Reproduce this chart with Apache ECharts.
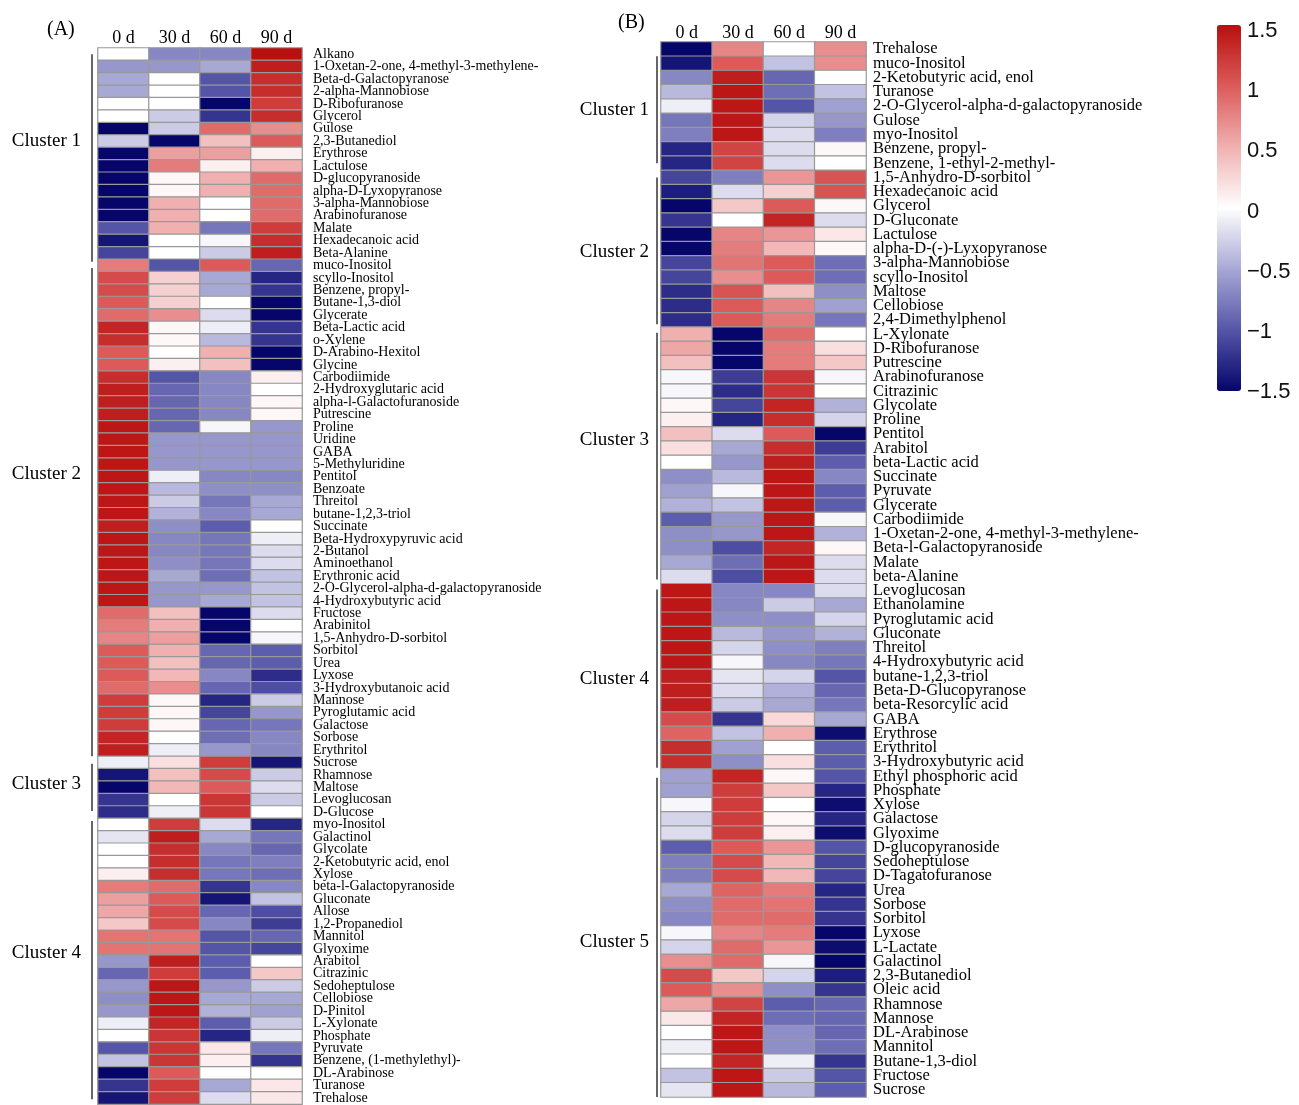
<!DOCTYPE html>
<html>
<head>
<meta charset="utf-8">
<script src="https://cdn.jsdelivr.net/npm/echarts@6/dist/echarts.min.js"></script>
<style>
  html, body { margin: 0; padding: 0; background: #fff; }
  #chart { width: 1299px; height: 1105px; }
</style>
</head>
<body>
<div id="chart"></div>
<script>
const days = ['0 d', '30 d', '60 d', '90 d'];

const namesA = [
  'Alkano', '1-Oxetan-2-one, 4-methyl-3-methylene-', 'Beta-d-Galactopyranose', '2-alpha-Mannobiose',
  'D-Ribofuranose', 'Glycerol', 'Gulose', '2,3-Butanediol', 'Erythrose', 'Lactulose', 'D-glucopyranoside',
  'alpha-D-Lyxopyranose', '3-alpha-Mannobiose', 'Arabinofuranose', 'Malate', 'Hexadecanoic acid',
  'Beta-Alanine', 'muco-Inositol',
  'scyllo-Inositol', 'Benzene, propyl-', 'Butane-1,3-diol', 'Glycerate', 'Beta-Lactic acid', 'o-Xylene',
  'D-Arabino-Hexitol', 'Glycine', 'Carbodiimide', '2-Hydroxyglutaric acid', 'alpha-l-Galactofuranoside',
  'Putrescine', 'Proline', 'Uridine', 'GABA', '5-Methyluridine', 'Pentitol', 'Benzoate', 'Threitol',
  'butane-1,2,3-triol', 'Succinate', 'Beta-Hydroxypyruvic acid', '2-Butanol', 'Aminoethanol',
  'Erythronic acid', '2-O-Glycerol-alpha-d-galactopyranoside', '4-Hydroxybutyric acid', 'Fructose',
  'Arabinitol', '1,5-Anhydro-D-sorbitol', 'Sorbitol', 'Urea', 'Lyxose', '3-Hydroxybutanoic acid',
  'Mannose', 'Pyroglutamic acid', 'Galactose', 'Sorbose', 'Erythritol',
  'Sucrose', 'Rhamnose', 'Maltose', 'Levoglucosan', 'D-Glucose',
  'myo-Inositol', 'Galactinol', 'Glycolate', '2-Ketobutyric acid, enol', 'Xylose',
  'beta-l-Galactopyranoside', 'Gluconate', 'Allose', '1,2-Propanediol', 'Mannitol', 'Glyoxime',
  'Arabitol', 'Citrazinic', 'Sedoheptulose', 'Cellobiose', 'D-Pinitol', 'L-Xylonate', 'Phosphate',
  'Pyruvate', 'Benzene, (1-methylethyl)-', 'DL-Arabinose', 'Turanose', 'Trehalose'
];

// one row per metabolite: [0 d, 30 d, 60 d, 90 d]
const valuesA = [
  [0, -0.7, -0.7, 1.5], [-0.6, -0.6, -0.5, 1.4], [-0.5, 0, -1.0, 1.3], [-0.5, 0, -1.0, 1.3],
  [0, 0, -1.5, 1.2], [0, -0.3, -1.2, 1.3], [-1.5, -0.3, 0.9, 0.7], [-0.3, -1.5, 0.4, 1.0],
  [-1.5, 0.6, 0.6, 0.1], [-1.5, 0.8, 0.1, 0.5], [-1.5, 0.05, 0.5, 0.9], [-1.5, 0.05, 0.5, 0.9],
  [-1.5, 0.5, 0, 0.9], [-1.5, 0.5, 0, 0.9], [-1.0, 0.5, -0.8, 1.2], [-1.4, 0, -0.05, 1.3],
  [-1.1, 0, -0.3, 1.4], [0.8, -1.0, 1.0, -0.9],

  [1.1, 0.3, -0.5, -1.3], [1.1, 0.3, -0.5, -1.2], [1.0, 0.3, 0, -1.5], [0.9, 0.7, -0.2, -1.5],
  [1.35, 0.05, -0.1, -1.2], [1.3, 0.05, -0.4, -1.2], [1.0, 0, 0.5, -1.5], [1.0, 0.1, 0.4, -1.5],
  [1.3, -1.0, -0.7, 0.1], [1.4, -0.9, -0.7, 0], [1.4, -0.9, -0.7, 0.05], [1.4, -0.9, -0.7, 0.05],
  [1.45, -0.9, -0.05, -0.6], [1.45, -0.6, -0.6, -0.6], [1.45, -0.6, -0.6, -0.6], [1.45, -0.6, -0.6, -0.6],
  [1.45, -0.1, -0.7, -0.7], [1.45, -0.4, -0.65, -0.65], [1.45, -0.3, -0.8, -0.5], [1.45, -0.45, -0.7, -0.5],
  [1.4, -0.65, -0.95, 0], [1.45, -0.7, -0.8, -0.1], [1.45, -0.7, -0.8, -0.2], [1.45, -0.65, -0.8, -0.2],
  [1.45, -0.5, -0.85, -0.35], [1.45, -0.6, -0.6, -0.35], [1.45, -0.6, -0.5, -0.35],
  [0.9, 0.4, -1.5, -0.2], [0.8, 0.5, -1.55, 0], [0.75, 0.6, -1.5, -0.05],
  [1.0, 0.5, -0.9, -0.95], [1.0, 0.4, -0.9, -0.95], [1.0, 0.45, -0.7, -1.25], [0.9, 0.7, -0.9, -1.05],
  [1.2, 0.05, -1.3, -0.3], [1.2, 0.05, -1.1, -0.6], [1.2, 0.05, -0.9, -0.8], [1.35, 0, -0.85, -0.7],
  [1.4, -0.1, -0.6, -0.7],

  [-0.1, 0.2, 1.2, -1.4], [-1.4, 0.4, 1.1, -0.3], [-1.5, 0.45, 1.0, -0.2], [-1.2, 0, 1.25, -0.3],
  [-1.25, -0.1, 1.25, 0],

  [0, 1.2, -0.2, -1.3], [-0.15, 1.4, -0.5, -0.8], [0, 1.3, -0.7, -0.9], [0, 1.3, -0.8, -0.75],
  [0.1, 1.3, -0.8, -0.85], [0.8, 0.9, -1.2, -0.7], [0.6, 1.0, -1.4, -0.35], [0.55, 1.1, -0.9, -1.05],
  [0.35, 1.1, -0.7, -1.15], [0.85, 0.85, -1.0, -0.9], [0.85, 0.85, -1.0, -1.1], [-0.6, 1.4, -0.95, 0],
  [-0.9, 1.2, -0.95, 0.35], [-0.6, 1.45, -0.6, -0.3], [-0.65, 1.45, -0.5, -0.5], [-0.6, 1.45, -0.45, -0.55],
  [-0.1, 1.35, -0.95, -0.3], [0, 1.25, -1.3, -0.1], [-1.0, 1.25, 0.15, -0.8], [-0.35, 1.25, 0.1, -1.2],
  [-1.5, 1.0, 0, 0], [-1.2, 1.2, -0.5, 0.15], [-1.4, 1.2, -0.2, 0.15]
];

const namesB = [
  'Trehalose', 'muco-Inositol', '2-Ketobutyric acid, enol', 'Turanose',
  '2-O-Glycerol-alpha-d-galactopyranoside', 'Gulose', 'myo-Inositol', 'Benzene, propyl-',
  'Benzene, 1-ethyl-2-methyl-',
  '1,5-Anhydro-D-sorbitol', 'Hexadecanoic acid', 'Glycerol', 'D-Gluconate', 'Lactulose',
  'alpha-D-(-)-Lyxopyranose', '3-alpha-Mannobiose', 'scyllo-Inositol', 'Maltose', 'Cellobiose',
  '2,4-Dimethylphenol',
  'L-Xylonate', 'D-Ribofuranose', 'Putrescine', 'Arabinofuranose', 'Citrazinic', 'Glycolate', 'Proline',
  'Pentitol', 'Arabitol', 'beta-Lactic acid', 'Succinate', 'Pyruvate', 'Glycerate', 'Carbodiimide',
  '1-Oxetan-2-one, 4-methyl-3-methylene-', 'Beta-l-Galactopyranoside', 'Malate', 'beta-Alanine',
  'Levoglucosan', 'Ethanolamine', 'Pyroglutamic acid', 'Gluconate', 'Threitol', '4-Hydroxybutyric acid',
  'butane-1,2,3-triol', 'Beta-D-Glucopyranose', 'beta-Resorcylic acid', 'GABA', 'Erythrose', 'Erythritol',
  '3-Hydroxybutyric acid',
  'Ethyl phosphoric acid', 'Phosphate', 'Xylose', 'Galactose', 'Glyoxime', 'D-glucopyranoside',
  'Sedoheptulose', 'D-Tagatofuranose', 'Urea', 'Sorbose', 'Sorbitol', 'Lyxose', 'L-Lactate', 'Galactinol',
  '2,3-Butanediol', 'Oleic acid', 'Rhamnose', 'Mannose', 'DL-Arabinose', 'Mannitol', 'Butane-1,3-diol',
  'Fructose', 'Sucrose'
];

const valuesB = [
  [-1.5, 0.75, 0, 0.7], [-1.4, 1.0, -0.35, 0.7], [-0.7, 1.4, -0.9, 0], [-0.4, 1.45, -0.85, -0.35],
  [-0.1, 1.45, -1.0, -0.55], [-0.8, 1.45, -0.25, -0.6], [-0.75, 1.45, -0.2, -0.75], [-1.3, 1.15, -0.2, 0.05],
  [-1.3, 1.15, -0.2, 0],

  [-1.1, -0.75, 0.65, 1.05], [-1.35, -0.2, 0.3, 1.05], [-1.5, 0.35, 1.0, 0.05], [-1.2, 0, 1.35, -0.2],
  [-1.5, 0.75, 0.65, 0.15], [-1.5, 0.8, 0.45, 0.05], [-1.1, 0.85, 1.0, -0.85], [-1.1, 0.7, 1.0, -0.85],
  [-1.25, 1.05, 0.4, -0.65], [-1.25, 1.0, 0.75, -0.55], [-1.25, 1.0, 0.8, -0.8],

  [0.5, -1.5, 0.9, 0], [0.55, -1.5, 0.8, 0.2], [0.4, -1.5, 0.8, 0.35], [-0.05, -1.15, 1.25, -0.05],
  [-0.05, -1.25, 1.25, 0], [0.05, -1.1, 1.35, -0.45], [0.1, -1.3, 1.3, -0.25], [0.4, -0.2, 1.0, -1.5],
  [0.2, -0.5, 1.3, -1.15], [0, -0.6, 1.4, -0.95], [-0.65, -0.4, 1.45, -0.7], [-0.55, -0.05, 1.45, -0.95],
  [-0.45, -0.35, 1.45, -0.95], [-0.95, -0.6, 1.45, -0.05], [-0.65, -0.6, 1.45, -0.45],
  [-0.65, -1.05, 1.35, 0.05], [-0.5, -0.85, 1.45, -0.2], [-0.2, -1.05, 1.45, -0.2],

  [1.45, -0.7, -0.7, -0.2], [1.45, -0.7, -0.3, -0.5], [1.45, -0.65, -0.65, -0.25], [1.45, -0.4, -0.6, -0.45],
  [1.45, -0.25, -0.65, -0.75], [1.45, -0.05, -0.7, -0.8], [1.4, -0.15, -0.25, -1.0], [1.4, -0.2, -0.45, -0.9],
  [1.4, -0.3, -0.5, -0.8], [1.1, -1.2, 0.25, -0.5], [0.95, -0.35, 0.5, -1.45], [1.3, -0.55, 0, -0.95],
  [1.3, -0.65, 0.2, -0.95],

  [-0.55, 1.35, 0.05, -1.0], [-0.55, 1.2, 0.35, -1.3], [-0.05, 1.2, 0, -1.45], [-0.25, 1.2, 0.05, -1.3],
  [-0.2, 1.2, 0.1, -1.45], [-0.95, 1.0, 0.65, -1.0], [-0.75, 1.1, 0.45, -1.1], [-0.75, 1.1, 0.45, -1.1],
  [-0.5, 0.95, 0.8, -1.3], [-0.65, 0.9, 0.85, -1.2], [-0.7, 0.9, 0.9, -1.2], [-0.05, 0.75, 0.8, -1.5],
  [-0.25, 0.9, 0.65, -1.45], [0.7, 0.9, -0.05, -1.5], [1.1, 0.35, -0.25, -1.35], [1.0, 0.7, -0.65, -1.2],
  [0.55, 1.15, -0.95, -0.9], [0.15, 1.35, -0.85, -0.9], [0, 1.45, -0.65, -0.9], [-0.1, 1.45, -0.65, -0.85],
  [0, 1.35, -0.1, -1.2], [-0.35, 1.45, -0.3, -1.0], [-0.15, 1.45, -0.4, -0.95]
];

// cluster brackets: name, first/last row covered by the line, row where the label sits
const clustersA = [
  { name: 'Cluster 1', from: 0, to: 16.7, label: 7.0 },
  { name: 'Cluster 2', from: 17.2, to: 56.5, label: 33.8 },
  { name: 'Cluster 3', from: 57.1, to: 60.9, label: 58.7 },
  { name: 'Cluster 4', from: 61.7, to: 84.1, label: 72.3 }
];
const clustersB = [
  { name: 'Cluster 1', from: 0.5, to: 8.0, label: 4.3 },
  { name: 'Cluster 2', from: 9.0, to: 19.3, label: 14.2 },
  { name: 'Cluster 3', from: 19.9, to: 37.2, label: 27.4 },
  { name: 'Cluster 4', from: 37.9, to: 50.4, label: 44.2 },
  { name: 'Cluster 5', from: 51.1, to: 73.5, label: 62.6 }
];

const scaleTicks = [-1.5, 1.5, 0.5]; // min, max, step

function toCells(rows) {
  const out = [];
  rows.forEach((r, y) => r.forEach((v, x) => out.push([x, y, v])));
  return out;
}

const serif = '"Liberation Serif", "DejaVu Serif", serif';
const chart = echarts.init(document.getElementById('chart'));

const cellStyle = { borderColor: '#999999', borderWidth: 1.2 };

const option = {
  animation: false,
  backgroundColor: '#fff',
  grid: [
    { left: 98, top: 48, width: 204, height: 1057 },
    { left: 661, top: 42, width: 205, height: 1055 },
    { left: 1241, top: 31, width: 1, height: 361 }
  ],
  xAxis: [
    { type: 'category', gridIndex: 0, data: days, position: 'top',
      axisLine: { show: false }, axisTick: { show: false },
      axisLabel: { fontFamily: serif, fontSize: 18, color: '#000', margin: 1 } },
    { type: 'category', gridIndex: 1, data: days, position: 'top',
      axisLine: { show: false }, axisTick: { show: false },
      axisLabel: { fontFamily: serif, fontSize: 18, color: '#000', margin: 0 } },
    { type: 'value', gridIndex: 2, show: false }
  ],
  yAxis: [
    { type: 'category', gridIndex: 0, data: namesA, inverse: true, position: 'right',
      axisLine: { show: false }, axisTick: { show: false },
      axisLabel: { interval: 0, fontFamily: serif, fontSize: 14, color: '#000', margin: 11 } },
    { type: 'category', gridIndex: 1, data: namesB, inverse: true, position: 'right',
      axisLine: { show: false }, axisTick: { show: false },
      axisLabel: { interval: 0, fontFamily: serif, fontSize: 16.5, color: '#000', margin: 7 } },
    { type: 'value', gridIndex: 2, position: 'right',
      min: scaleTicks[0], max: scaleTicks[1], interval: scaleTicks[2],
      axisLine: { show: false }, axisTick: { show: false }, splitLine: { show: false },
      axisLabel: {
        fontFamily: '"Liberation Sans", Arial, sans-serif', fontSize: 22, color: '#111', margin: 5,
        formatter: v => (v < 0 ? '\u2212' + Math.abs(v) : String(v))
      } }
  ],
  visualMap: {
    type: 'continuous',
    min: -1.5, max: 1.5,
    seriesIndex: [0, 1],
    orient: 'vertical',
    left: 1217, top: 25,
    itemWidth: 24, itemHeight: 366,
    padding: 0,
    calculable: false,
    text: null,
    inRange: {
      color: ['#05056a', '#5555a8', '#a8a8d5', '#ffffff', '#f0b0b0', '#dc5a5a', '#b80f0f']
    }
  },
  series: [
    { type: 'heatmap', xAxisIndex: 0, yAxisIndex: 0, data: toCells(valuesA),
      itemStyle: cellStyle, emphasis: { disabled: true } },
    { type: 'heatmap', xAxisIndex: 1, yAxisIndex: 1, data: toCells(valuesB),
      itemStyle: cellStyle, emphasis: { disabled: true } }
  ]
};

chart.setOption(option);

// brackets, cluster names and panel tags, placed through the y axes
function rowPx(axisIdx, r) {
  const a = chart.convertToPixel({ yAxisIndex: axisIdx }, 0);
  const b = chart.convertToPixel({ yAxisIndex: axisIdx }, 1);
  return a + (b - a) * r;
}

const graphics = [];
function addClusters(list, axisIdx, lineX, textRight) {
  list.forEach(c => {
    graphics.push({
      type: 'line',
      shape: { x1: lineX, y1: rowPx(axisIdx, c.from), x2: lineX, y2: rowPx(axisIdx, c.to) },
      style: { stroke: '#333', lineWidth: 1.5 }
    });
    graphics.push({
      type: 'text',
      x: textRight, y: rowPx(axisIdx, c.label),
      style: { text: c.name, font: '19px ' + serif, fill: '#000', align: 'right', verticalAlign: 'middle' }
    });
  });
}
addClusters(clustersA, 0, 92, 81);
addClusters(clustersB, 1, 657, 649);

graphics.push({ type: 'text', x: 47, y: 30,
  style: { text: '(A)', font: '20px ' + serif, fill: '#000', verticalAlign: 'middle' } });
graphics.push({ type: 'text', x: 618, y: 23,
  style: { text: '(B)', font: '20px ' + serif, fill: '#000', verticalAlign: 'middle' } });

chart.setOption({ graphic: graphics });
</script>
</body>
</html>
